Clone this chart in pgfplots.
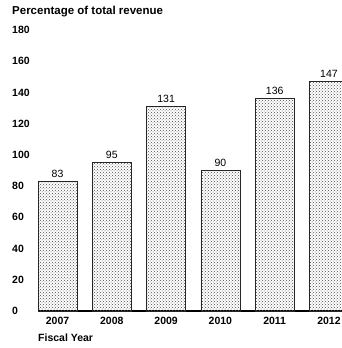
\documentclass[border=0pt]{standalone}
\usepackage{pgfplots}
\pgfplotsset{compat=1.18}
\usetikzlibrary{patterns}
\usepackage{fontspec}
\setmainfont{Liberation Sans}
\begin{document}
\begin{tikzpicture}
\useasboundingbox (-38pt,-37pt) rectangle (304pt,311pt);
\begin{axis}[
  at={(0,0)}, anchor=south west,
  scale only axis, width=304pt, height=281pt,
  xmin=-0.36, xmax=5.24, ymin=0, ymax=180,
  axis x line*=bottom, axis y line*=left,
  x axis line style={line width=1.6pt, -},
  y axis line style={draw=none},
  xtick={0,1,2,3,4,5},
  xticklabels={2007,2008,2009,2010,2011,2012},
  major tick length=0pt,
  xticklabel style={font=\fontsize{10.5}{12}\selectfont\bfseries, yshift=-3pt},
  ytick={0,20,...,180},
  yticklabel style={font=\fontsize{10.5}{12}\selectfont\bfseries, anchor=west, inner sep=0pt, xshift=-26pt},
  /pgf/number format/assume math mode=true,
  clip=true,
  bar width=39pt,
]
\addplot[ybar, draw=black!85, line width=0.6pt, fill=black!12, pattern=crosshatch dots, pattern color=black!70,
  nodes near coords, every node near coord/.append style={font=\fontsize{10.5}{12}\selectfont, black}]
  coordinates {(0,83) (1,95) (2,131) (3,90) (4,136) (5,147)};
\end{axis}
\node[anchor=west, inner sep=0pt, font=\fontsize{11.5}{13}\selectfont\bfseries] at (-26pt,299pt) {Percentage of total revenue};
\node[anchor=west, inner sep=0pt, font=\fontsize{10.5}{12}\selectfont\bfseries] at (0pt,-27pt) {Fiscal Year};
\end{tikzpicture}
\end{document}
